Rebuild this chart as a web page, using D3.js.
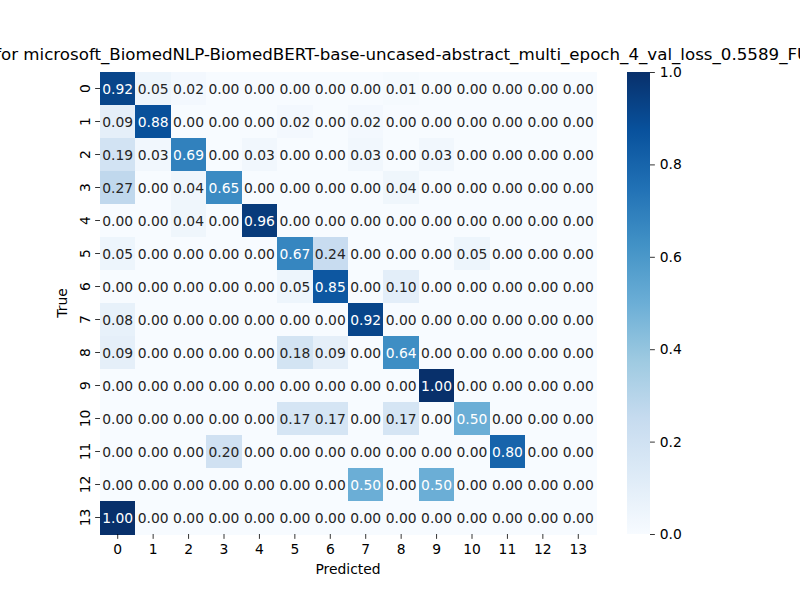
<!DOCTYPE html>
<html>
<head>
<meta charset="utf-8">
<script src="https://cdn.jsdelivr.net/npm/d3@7"></script>
<style>
  html, body { margin: 0; padding: 0; background: #fff; }
  text { font-family: "DejaVu Sans", sans-serif; }
</style>
</head>
<body>
<svg id="chart" width="800" height="600"></svg>
<script>
const titleText = "Confusion Matrix for microsoft_BiomedNLP-BiomedBERT-base-uncased-abstract_multi_epoch_4_val_loss_0.5589_FULL";
const trueLabels = ["0","1","2","3","4","5","6","7","8","9","10","11","12","13"];
const predLabels = ["0","1","2","3","4","5","6","7","8","9","10","11","12","13"];
const matrix = [
  [0.92,0.05,0.02,0.00,0.00,0.00,0.00,0.00,0.01,0.00,0.00,0.00,0.00,0.00],
  [0.09,0.88,0.00,0.00,0.00,0.02,0.00,0.02,0.00,0.00,0.00,0.00,0.00,0.00],
  [0.19,0.03,0.69,0.00,0.03,0.00,0.00,0.03,0.00,0.03,0.00,0.00,0.00,0.00],
  [0.27,0.00,0.04,0.65,0.00,0.00,0.00,0.00,0.04,0.00,0.00,0.00,0.00,0.00],
  [0.00,0.00,0.04,0.00,0.96,0.00,0.00,0.00,0.00,0.00,0.00,0.00,0.00,0.00],
  [0.05,0.00,0.00,0.00,0.00,0.67,0.24,0.00,0.00,0.00,0.05,0.00,0.00,0.00],
  [0.00,0.00,0.00,0.00,0.00,0.05,0.85,0.00,0.10,0.00,0.00,0.00,0.00,0.00],
  [0.08,0.00,0.00,0.00,0.00,0.00,0.00,0.92,0.00,0.00,0.00,0.00,0.00,0.00],
  [0.09,0.00,0.00,0.00,0.00,0.18,0.09,0.00,0.64,0.00,0.00,0.00,0.00,0.00],
  [0.00,0.00,0.00,0.00,0.00,0.00,0.00,0.00,0.00,1.00,0.00,0.00,0.00,0.00],
  [0.00,0.00,0.00,0.00,0.00,0.17,0.17,0.00,0.17,0.00,0.50,0.00,0.00,0.00],
  [0.00,0.00,0.00,0.20,0.00,0.00,0.00,0.00,0.00,0.00,0.00,0.80,0.00,0.00],
  [0.00,0.00,0.00,0.00,0.00,0.00,0.00,0.50,0.00,0.50,0.00,0.00,0.00,0.00],
  [1.00,0.00,0.00,0.00,0.00,0.00,0.00,0.00,0.00,0.00,0.00,0.00,0.00,0.00]
];
const colorbarTicks = [0.0, 0.2, 0.4, 0.6, 0.8, 1.0];
const bluesStops = ["#f7fbff","#deebf7","#c6dbef","#9ecae1","#6baed6","#4292c6","#2171b5","#08519c","#08306b"];

const FS = 13.89, TFS = 16.67, TL = 4.86, TP = 4.86;
const svg = d3.select("#chart");
const L = 100, R = 596, T = 72, B = 534;
const x = d3.scaleBand().domain(predLabels).range([L, R]).padding(0);
const y = d3.scaleBand().domain(trueLabels).range([T, B]).padding(0);
const color = d3.scaleLinear()
  .domain(d3.range(bluesStops.length).map(i => i / (bluesStops.length - 1)))
  .range(bluesStops)
  .interpolate(d3.interpolateRgb)
  .clamp(true);

const cells = [];
matrix.forEach((row, i) => row.forEach((v, j) => cells.push({r: trueLabels[i], c: predLabels[j], v})));

svg.append("g").selectAll("rect").data(cells).join("rect")
  .attr("x", d => x(d.c))
  .attr("y", d => y(d.r))
  .attr("width", x.bandwidth() + 0.5)
  .attr("height", y.bandwidth() + 0.5)
  .attr("fill", d => color(d.v))
  .attr("shape-rendering", "crispEdges");

function lum(hex) {
  const c = d3.rgb(hex);
  const f = u => { u /= 255; return u <= 0.03928 ? u / 12.92 : Math.pow((u + 0.055) / 1.055, 2.4); };
  return 0.2126 * f(c.r) + 0.7152 * f(c.g) + 0.0722 * f(c.b);
}

svg.append("g").selectAll("text").data(cells).join("text")
  .attr("x", d => x(d.c) + x.bandwidth() / 2)
  .attr("y", d => y(d.r) + y.bandwidth() / 2)
  .attr("text-anchor", "middle")
  .attr("dominant-baseline", "central")
  .attr("font-size", FS + "px")
  .attr("fill", d => lum(color(d.v)) > 0.408 ? "#262626" : "#ffffff")
  .text(d => d.v.toFixed(2));

// X axis
const xAxis = d3.axisBottom(x).tickSize(TL).tickPadding(TP);
const gx = svg.append("g").attr("transform", `translate(0,${B})`).call(xAxis);
gx.select(".domain").remove();
gx.selectAll(".tick line").attr("stroke", "#000").attr("stroke-width", 0.8);
gx.selectAll(".tick text").attr("font-size", FS + "px").attr("fill", "#000").attr("font-family", "DejaVu Sans");

// Y axis
const yAxis = d3.axisLeft(y).tickSize(TL).tickPadding(TP);
const gy = svg.append("g").attr("transform", `translate(${L},0)`).call(yAxis);
gy.select(".domain").remove();
gy.selectAll(".tick line").attr("stroke", "#000").attr("stroke-width", 0.8);
gy.selectAll(".tick text")
  .attr("font-size", FS + "px").attr("fill", "#000").attr("font-family", "DejaVu Sans")
  .attr("text-anchor", "middle").attr("dy", null).attr("x", null)
  .attr("dominant-baseline", "auto")
  .attr("transform", `translate(${-(TL + TP)},0) rotate(-90)`)
  .attr("y", 0);

// Axis labels
svg.append("text").attr("x", (L + R) / 2).attr("y", 574)
  .attr("text-anchor", "middle").attr("font-size", FS + "px").attr("fill", "#000").text("Predicted");
svg.append("text").attr("transform", `translate(67,${(T + B) / 2}) rotate(-90)`)
  .attr("text-anchor", "middle").attr("font-size", FS + "px").attr("fill", "#000").text("True");

// Title (overflows the figure on both sides, as in the reference)
const title = svg.append("text").attr("y", 60)
  .attr("text-anchor", "start").attr("font-size", TFS + "px").attr("fill", "#000").text(titleText);
const prefixLen = title.node().getSubStringLength(0, "Confusion Matrix f".length);
title.attr("x", 1 - prefixLen);

// Colorbar
const cbL = 627, cbW = 23;
const cy = d3.scaleLinear().domain([0, 1]).range([B, T]);
const defs = svg.append("defs");
const grad = defs.append("linearGradient").attr("id", "cbgrad")
  .attr("x1", 0).attr("y1", 1).attr("x2", 0).attr("y2", 0);
bluesStops.forEach((c, i) => grad.append("stop").attr("offset", i / (bluesStops.length - 1)).attr("stop-color", c));
svg.append("rect").attr("x", cbL).attr("y", T).attr("width", cbW).attr("height", B - T).attr("fill", "url(#cbgrad)");
const cAxis = d3.axisRight(cy).tickValues(colorbarTicks).tickFormat(d3.format(".1f")).tickSize(TL).tickPadding(TP);
const gc = svg.append("g").attr("transform", `translate(${cbL + cbW},0)`).call(cAxis);
gc.select(".domain").remove();
gc.selectAll(".tick line").attr("stroke", "#000").attr("stroke-width", 0.8);
gc.selectAll(".tick text").attr("font-size", FS + "px").attr("fill", "#000").attr("font-family", "DejaVu Sans");
</script>
</body>
</html>
